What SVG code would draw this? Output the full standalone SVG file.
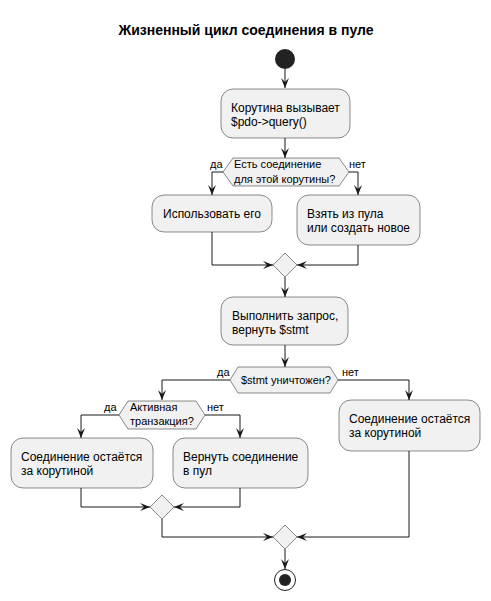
<svg xmlns="http://www.w3.org/2000/svg" width="491" height="601" viewBox="0 0 491 601">
<style>
.box{fill:#F1F1F1;stroke:#181818;stroke-width:0.5}
.t{font-family:"Liberation Sans",Arial,sans-serif;font-size:12px;fill:#000}
.s{font-family:"Liberation Sans",Arial,sans-serif;font-size:11px;fill:#000}
.ln{fill:none;stroke:#181818;stroke-width:1}
</style>
<defs>
<marker id="ar" viewBox="0 0 10 8" refX="10" refY="4" markerWidth="10" markerHeight="8" markerUnits="userSpaceOnUse" orient="auto">
<path d="M0,0 L10,4 L0,8 L4,4 Z" fill="#181818"/>
</marker>
</defs>
<rect width="491" height="601" fill="#FFFFFF"/>
<text x="246" y="35" text-anchor="middle" font-family="'Liberation Sans',Arial,sans-serif" font-size="14" font-weight="bold">Жизненный цикл соединения в пуле</text>

<g id="connectors">
<path class="ln" d="M285,69 L285,88" marker-end="url(#ar)"/>
<path class="ln" d="M285,138 L285,158" marker-end="url(#ar)"/>
<path class="ln" d="M223,172 L212,172 L212,195" marker-end="url(#ar)"/>
<path class="ln" d="M349,172 L358,172 L358,195" marker-end="url(#ar)"/>
<path class="ln" d="M212,232 L212,265 L273,265" marker-end="url(#ar)"/>
<path class="ln" d="M358,245 L358,265 L297,265" marker-end="url(#ar)"/>
<path class="ln" d="M285,277 L285,297" marker-end="url(#ar)"/>
<path class="ln" d="M285,345 L285,367" marker-end="url(#ar)"/>
<path class="ln" d="M230,380 L162,380 L162,400" marker-end="url(#ar)"/>
<path class="ln" d="M338,380 L409,380 L409,400" marker-end="url(#ar)"/>
<path class="ln" d="M119,415 L81,415 L81,438" marker-end="url(#ar)"/>
<path class="ln" d="M205,415 L240,415 L240,438" marker-end="url(#ar)"/>
<path class="ln" d="M81,488 L81,507 L150,507" marker-end="url(#ar)"/>
<path class="ln" d="M240,488 L240,507 L174,507" marker-end="url(#ar)"/>
<path class="ln" d="M162,519 L162,537 L273,537" marker-end="url(#ar)"/>
<path class="ln" d="M409,451 L409,537 L297,537" marker-end="url(#ar)"/>
<path class="ln" d="M285,549 L285,569" marker-end="url(#ar)"/>
<text class="s" x="210" y="168">да</text>
<text class="s" x="349" y="168">нет</text>
<text class="s" x="217" y="376">да</text>
<text class="s" x="342" y="376">нет</text>
<text class="s" x="104" y="411">да</text>
<text class="s" x="207" y="411">нет</text>
</g>

<g id="start"><circle cx="285" cy="59" r="10" fill="#222222"/></g>

<g id="n1">
<rect class="box" x="221" y="89" width="129" height="49" rx="12"/>
<text class="t" x="231" y="112">Корутина вызывает</text>
<text class="t" x="231" y="126">$pdo-&gt;query()</text>
</g>

<g id="d1">
<polygon class="box" points="223,172 233,158 339,158 349,172 339,186 233,186"/>
<text class="s" x="234" y="168">Есть соединение</text>
<text class="s" x="234" y="183">для этой корутины?</text>
</g>

<g id="n2">
<rect class="box" x="152" y="195" width="120" height="37" rx="12"/>
<text class="t" x="163" y="218">Использовать его</text>
</g>

<g id="n3">
<rect class="box" x="297" y="195" width="123" height="50" rx="12"/>
<text class="t" x="307" y="218">Взять из пула</text>
<text class="t" x="307" y="232">или создать новое</text>
</g>

<g id="m1"><polygon class="box" points="285,253 297,265 285,277 273,265"/></g>

<g id="n4">
<rect class="box" x="221" y="297" width="127" height="48" rx="12"/>
<text class="t" x="232" y="320">Выполнить запрос,</text>
<text class="t" x="232" y="334">вернуть $stmt</text>
</g>

<g id="d2">
<polygon class="box" points="230,380 238,367 330,367 338,380 330,393 238,393"/>
<text class="s" x="241" y="384">$stmt уничтожен?</text>
</g>

<g id="d3">
<polygon class="box" points="119,415 128,401 196,401 205,415 196,429 128,429"/>
<text class="s" x="130" y="411">Активная</text>
<text class="s" x="130" y="425">транзакция?</text>
</g>

<g id="n5">
<rect class="box" x="11" y="438" width="142" height="50" rx="12"/>
<text class="t" x="21" y="461">Соединение остаётся</text>
<text class="t" x="21" y="475">за корутиной</text>
</g>

<g id="n6">
<rect class="box" x="173" y="438" width="135" height="50" rx="12"/>
<text class="t" x="183" y="461">Вернуть соединение</text>
<text class="t" x="183" y="475">в пул</text>
</g>

<g id="n7">
<rect class="box" x="339" y="400" width="141" height="51" rx="12"/>
<text class="t" x="349" y="423">Соединение остаётся</text>
<text class="t" x="349" y="437">за корутиной</text>
</g>

<g id="m2"><polygon class="box" points="162,495 174,507 162,519 150,507"/></g>
<g id="m3"><polygon class="box" points="285,525 297,537 285,549 273,537"/></g>

<g id="end">
<circle cx="285" cy="580" r="10.5" fill="none" stroke="#222222" stroke-width="1"/>
<circle cx="285" cy="580" r="6" fill="#222222"/>
</g>
</svg>
